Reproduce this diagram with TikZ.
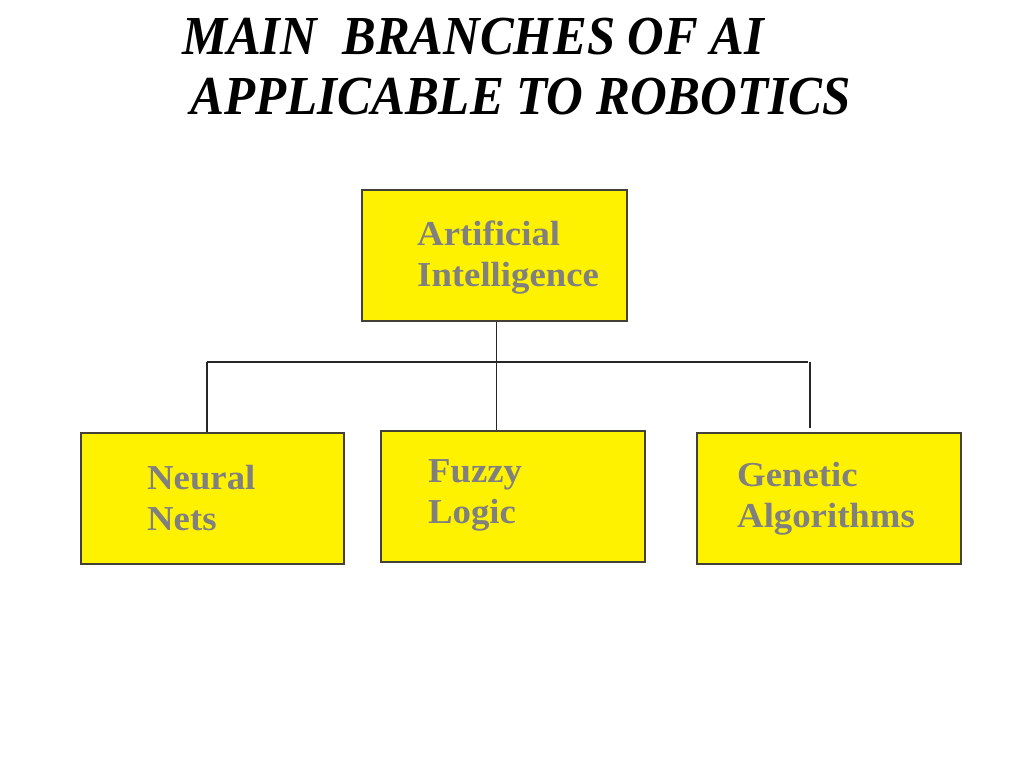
\documentclass[tikz,border=0pt]{standalone}
\usepackage{fontspec}
\setmainfont{Liberation Serif}
\begin{document}
\begin{tikzpicture}[x=1pt,y=-1pt,
  box/.style={draw=black!85!yellow, line width=1.5pt, fill=yellow, minimum width=#1, minimum height=131pt, inner sep=0pt, anchor=north west},
  box/.default=264pt,
  lbl/.style={anchor=base west, inner sep=0pt, text=black!50, font=\fontsize{35}{40.5}\selectfont\bfseries, align=left, xscale=1.05},
  ttl/.style={anchor=base west, inner sep=0pt, font=\fontsize{55}{62}\selectfont\bfseries\itshape},
  conn/.style={draw=black!85, line width=1.3pt}]
\useasboundingbox (0,0) rectangle (1024,768);
\node[ttl, xscale=0.92] (t1) at (182,55) {MAIN\ \ BRANCHES OF AI};
\node[ttl, xscale=0.925] (t2) at (190,114) {APPLICABLE TO ROBOTICS};

\node[box=265pt] (ai) at (361,189) {};
\node[box=263pt] (nn) at (80,432) {};
\node[box=264pt] (fl) at (380,430) {};
\node[box=264pt] (ga) at (696,432) {};

\node[lbl] (tai) at (417,286) {Artificial\\Intelligence};
\node[lbl] (tnn) at (147,530) {Neural\\Nets};
\node[lbl] (tfl) at (428,523) {Fuzzy\\Logic};
\node[lbl] (tga) at (737,527) {Genetic\\Algorithms};

\coordinate (hl) at (207,362);
\coordinate (hr) at (808,362);
\coordinate (rt) at (810,362);
\coordinate (rb) at (810,428);
\draw[conn] ([xshift=2pt]ai.south) -- ([xshift=2pt]ai.south |- fl.north);
\draw[conn] (hl) -- (hr);
\draw[conn] (hl) -- (hl |- nn.north);
\draw[conn] (rt) -- (rb);
\end{tikzpicture}
\end{document}
